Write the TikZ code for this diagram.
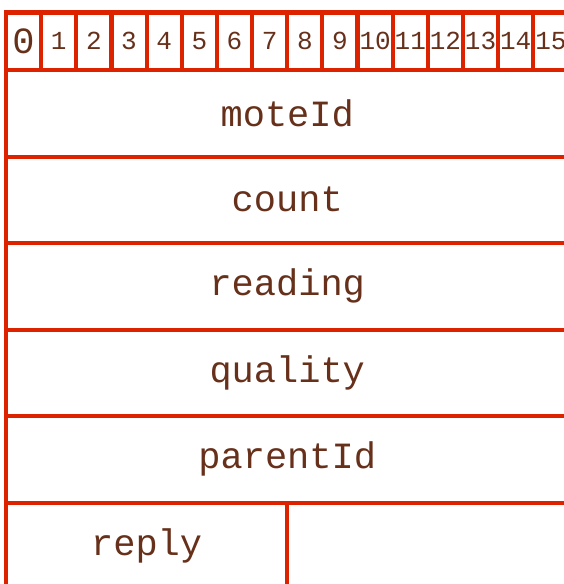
\documentclass[tikz,border=0pt]{standalone}
\usepackage{fontspec}
\newfontfamily\pktmono{Liberation Mono}
\usepackage{tikz}
\usetikzlibrary{positioning}
\usepackage{xcolor}
\definecolor{fieldred}{HTML}{DD2200}
\definecolor{textbrown}{HTML}{66301A}

\begin{document}
\begin{tikzpicture}[x=1pt, y=1pt,
    bit/.style={draw=fieldred, line width=4.2pt, minimum width=35.15pt, minimum height=57.5pt,
                inner sep=0pt, outer sep=0pt, text=textbrown, font=\pktmono\fontsize{26}{26}\selectfont},
    field/.style={draw=fieldred, line width=4pt, minimum width=562.4pt, minimum height=86.5pt,
                inner sep=0pt, outer sep=0pt, text=textbrown, font=\pktmono\fontsize{37}{37}\selectfont},
    half/.style={field, minimum width=281.2pt}
]
\useasboundingbox (0,0) rectangle (563,-584);
% bit numbers
\node[bit, font=\pktmono\fontsize{37}{37}\selectfont] (b0) at (23.6,-41.25) {0};
\node[bit, right=0pt of b0] (b1) {1};
\node[bit, right=0pt of b1] (b2) {2};
\node[bit, right=0pt of b2] (b3) {3};
\node[bit, right=0pt of b3] (b4) {4};
\node[bit, right=0pt of b4] (b5) {5};
\node[bit, right=0pt of b5] (b6) {6};
\node[bit, right=0pt of b6] (b7) {7};
\node[bit, right=0pt of b7] (b8) {8};
\node[bit, right=0pt of b8] (b9) {9};
\node[bit, right=0pt of b9] (b10) {10};
\node[bit, right=0pt of b10] (b11) {11};
\node[bit, right=0pt of b11] (b12) {12};
\node[bit, right=0pt of b12] (b13) {13};
\node[bit, right=0pt of b13] (b14) {14};
\node[bit, right=0pt of b14] (b15) {15};
% fields
\node[field, anchor=north west] (mote) at (b0.south west) {moteId};
\node[field, below=0pt of mote] (cnt) {count};
\node[field, below=0pt of cnt] (rdg) {reading};
\node[field, below=0pt of rdg] (qual) {quality};
\node[field, below=0pt of qual] (par) {parentId};
\node[half, anchor=north west] (rep) at (par.south west) {reply};
\node[half, anchor=north west] (rest) at (rep.north east) {};
\end{tikzpicture}
\end{document}
